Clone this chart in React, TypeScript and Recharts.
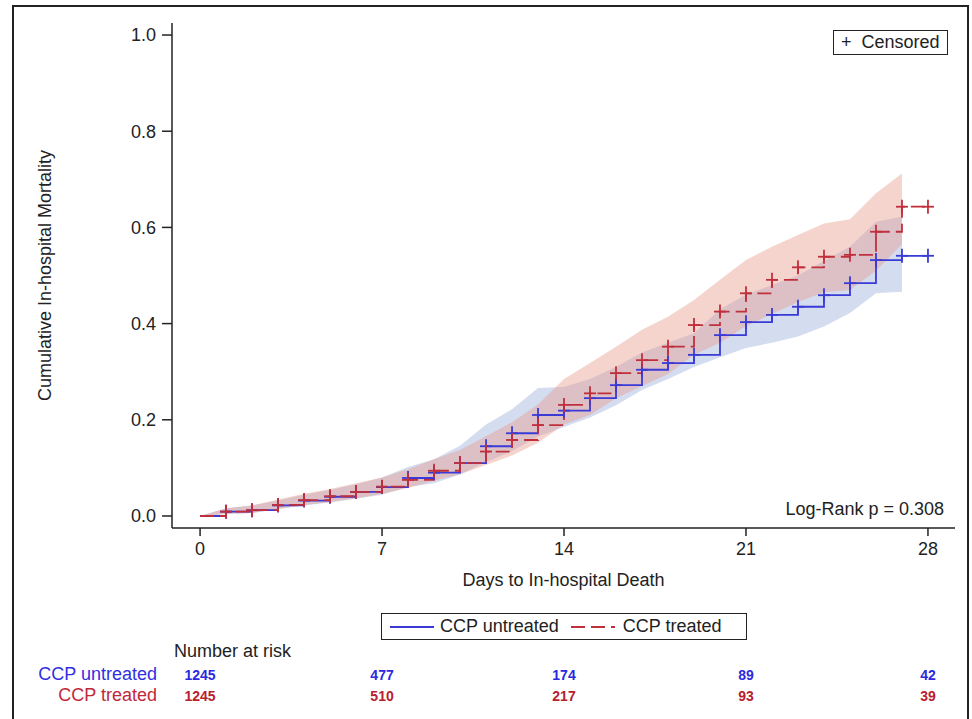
import { Area, ComposedChart, Line, XAxis, YAxis } from "recharts";

const days = [0, 1, 2, 3, 4, 5, 6, 7, 8, 9, 10, 11, 12, 13, 14, 15, 16, 17, 18, 19, 20, 21, 22, 23, 24, 25, 26, 27, 28];
const untreatedCum = [0, 0.009, 0.012, 0.022, 0.032, 0.04, 0.05, 0.06, 0.079, 0.09, 0.11, 0.145, 0.172, 0.21, 0.219, 0.245, 0.272, 0.304, 0.318, 0.335, 0.376, 0.403, 0.418, 0.435, 0.459, 0.484, 0.532, 0.541, 0.541];
const treatedCum = [0, 0.009, 0.012, 0.023, 0.033, 0.041, 0.05, 0.061, 0.075, 0.094, 0.11, 0.134, 0.158, 0.189, 0.231, 0.255, 0.297, 0.324, 0.352, 0.397, 0.425, 0.463, 0.491, 0.517, 0.539, 0.543, 0.591, 0.643, 0.643];

// 95% bands, days 0..27
const untreatedLo = [0, 0.004, 0.006, 0.014, 0.022, 0.028, 0.036, 0.044, 0.06, 0.068, 0.086, 0.112, 0.135, 0.165, 0.185, 0.205, 0.23, 0.262, 0.285, 0.31, 0.33, 0.349, 0.36, 0.373, 0.394, 0.422, 0.463, 0.466];
const untreatedHi = [0, 0.016, 0.022, 0.032, 0.044, 0.054, 0.066, 0.08, 0.102, 0.118, 0.146, 0.19, 0.222, 0.266, 0.268, 0.285, 0.31, 0.34, 0.36, 0.38, 0.43, 0.46, 0.48, 0.5, 0.53, 0.56, 0.612, 0.622];
const treatedLo = [0, 0.004, 0.006, 0.015, 0.023, 0.029, 0.037, 0.046, 0.058, 0.074, 0.087, 0.106, 0.126, 0.152, 0.19, 0.21, 0.245, 0.27, 0.295, 0.335, 0.36, 0.395, 0.42, 0.445, 0.465, 0.47, 0.51, 0.565];
const treatedHi = [0, 0.016, 0.022, 0.034, 0.046, 0.056, 0.068, 0.08, 0.097, 0.118, 0.137, 0.166, 0.195, 0.232, 0.285, 0.318, 0.352, 0.387, 0.414, 0.449, 0.491, 0.532, 0.56, 0.584, 0.608, 0.617, 0.671, 0.712];

const xTicks = [0, 7, 14, 21, 28];
const yTicks = [0, 0.2, 0.4, 0.6, 0.8, 1.0];
const riskUntreated = [1245, 477, 174, 89, 42];
const riskTreated = [1245, 510, 217, 93, 39];

const BLUE = "#3a3ad6";
const RED = "#c0303c";
const FONT = "'Liberation Sans', Arial, sans-serif";

const rows = days.map((d, i) => ({
  day: d,
  u: untreatedCum[i],
  t: treatedCum[i],
  uBand: i < untreatedLo.length ? [untreatedLo[i], untreatedHi[i]] : undefined,
  tBand: i < treatedLo.length ? [treatedLo[i], treatedHi[i]] : undefined,
}));

const plusDot = (color: string) => (props: any) => {
  const { cx, cy, index } = props;
  if (index === 0 || cx == null) return <g key={`d${index}`} />;
  return (
    <g key={`d${index}`} stroke={color} strokeWidth={1.8}>
      <line x1={cx - 6} x2={cx + 6} y1={cy} y2={cy} />
      <line x1={cx} x2={cx} y1={cy - 7} y2={cy + 7} />
    </g>
  );
};

const XTick = (props: any) => {
  const { x, y, payload } = props;
  const i = xTicks.indexOf(payload.value);
  return (
    <g fontFamily={FONT}>
      <text x={x} y={y} dy="0.71em" textAnchor="middle" fontSize={18} fill="#222">
        {payload.value}
      </text>
      <text x={x} y={y + 133} dominantBaseline="central" textAnchor="middle" fontSize={14} fontWeight="bold" fill="#2a2ae0">
        {riskUntreated[i]}
      </text>
      <text x={x} y={y + 154} dominantBaseline="central" textAnchor="middle" fontSize={14} fontWeight="bold" fill="#b8202e">
        {riskTreated[i]}
      </text>
    </g>
  );
};

const YTitle = (props: any) => {
  const { viewBox } = props;
  const cy = viewBox.y + viewBox.height / 2;
  return (
    <text x={45} y={cy} transform={`rotate(-90 45 ${cy})`} textAnchor="middle" dominantBaseline="central" fontSize={18} fontFamily={FONT} fill="#222">
      Cumulative In-hospital Mortality
    </text>
  );
};

const XTitle = (props: any) => {
  const { viewBox } = props;
  return (
    <text x={viewBox.x + viewBox.width / 2} y={580} textAnchor="middle" dominantBaseline="central" fontSize={18} fontFamily={FONT} fill="#222">
      Days to In-hospital Death
    </text>
  );
};

export default function App() {
  return (
    <div style={{ position: "absolute", left: 0, top: 0, width: 972, height: 719, background: "#fff", fontFamily: FONT, color: "#222", overflow: "hidden" }}>
      <div style={{ position: "absolute", left: 12, top: 5, width: 957, height: 714, border: "2px solid #222", borderBottom: "none", boxSizing: "border-box" }} />
      <div style={{ position: "absolute", left: 0, top: 0 }}>
        <ComposedChart width={972} height={719} data={rows} margin={{ top: 23, right: 17, left: 0, bottom: 131 }}>
          <XAxis
            dataKey="day"
            type="number"
            domain={[-1.08, 29.04]}
            ticks={xTicks}
            allowDataOverflow
            height={60}
            tickSize={8}
            tickMargin={6}
            stroke="#222"
            strokeWidth={1.5}
            tick={<XTick />}
            label={{ content: XTitle }}
          />
          <YAxis
            type="number"
            domain={[-0.025, 1.025]}
            ticks={yTicks}
            allowDataOverflow
            width={172}
            tickSize={10}
            tickMargin={6}
            stroke="#222"
            strokeWidth={1.5}
            tickFormatter={(v: number) => v.toFixed(1)}
            tick={{ fontSize: 18, fill: "#222", fontFamily: FONT }}
            label={{ content: YTitle }}
          />
          <Area dataKey="uBand" type="linear" stroke="none" fill="#9fb2dc" fillOpacity={0.45} isAnimationActive={false} />
          <Area dataKey="tBand" type="linear" stroke="none" fill="#e6998a" fillOpacity={0.42} isAnimationActive={false} />
          <Line dataKey="u" type="stepAfter" stroke={BLUE} strokeWidth={1.8} dot={plusDot(BLUE)} activeDot={false} isAnimationActive={false} />
          <Line dataKey="t" type="stepAfter" stroke={RED} strokeWidth={1.8} strokeDasharray="14 6" dot={plusDot(RED)} activeDot={false} isAnimationActive={false} />
        </ComposedChart>
      </div>

      <div style={{ position: "absolute", left: 833, top: 30, width: 115, height: 25, border: "1.5px solid #222", boxSizing: "border-box", fontSize: 18, lineHeight: "22px", paddingLeft: 7, whiteSpace: "nowrap" }}>
        +&nbsp;&nbsp;Censored
      </div>
      <div style={{ position: "absolute", right: 972 - 944, top: 499, fontSize: 18, whiteSpace: "nowrap" }}>Log-Rank p = 0.308</div>

      <div style={{ position: "absolute", left: 381, top: 613, width: 366, height: 27, border: "1.5px solid #222", boxSizing: "border-box", display: "flex", alignItems: "center", fontSize: 18, whiteSpace: "nowrap" }}>
        <svg width={52} height={10} style={{ marginLeft: 6 }}>
          <line x1={2} x2={46} y1={5} y2={5} stroke={BLUE} strokeWidth={1.8} />
        </svg>
        <span>CCP untreated</span>
        <svg width={56} height={10} style={{ marginLeft: 8 }}>
          <line x1={4} x2={48} y1={5} y2={5} stroke={RED} strokeWidth={1.8} strokeDasharray="14 6" />
        </svg>
        <span>CCP treated</span>
      </div>

      <div style={{ position: "absolute", left: 174, top: 641, fontSize: 18, whiteSpace: "nowrap" }}>Number at risk</div>
      <div style={{ position: "absolute", right: 972 - 157, top: 664, fontSize: 18, color: "#2f2fe0", whiteSpace: "nowrap" }}>CCP untreated</div>
      <div style={{ position: "absolute", right: 972 - 157, top: 685, fontSize: 18, color: "#c0283a", whiteSpace: "nowrap" }}>CCP treated</div>
    </div>
  );
}
